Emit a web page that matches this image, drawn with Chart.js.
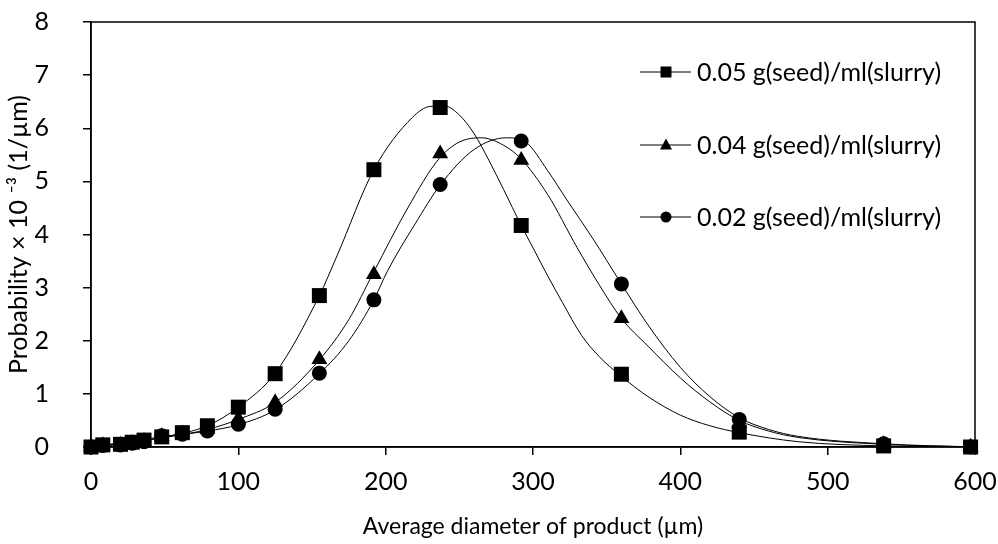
<!DOCTYPE html>
<html>
<head>
<meta charset="utf-8">
<script src="https://cdn.jsdelivr.net/npm/chart.js@4/dist/chart.umd.min.js"></script>
<style>
  body { margin: 0; background: #fff; }
  #wrap { width: 998px; height: 544px; }
</style>
</head>
<body>
<div id="wrap"><canvas id="psdChart" width="998" height="544"></canvas></div>
<script>
// measured points (sizes in um, probability x 10^-3)
const sizes = [0, 8, 20, 28, 36, 48, 62, 79, 100, 125, 155, 192, 237, 292, 360, 440, 538, 597];
const seed05 = [0, 0.04, 0.05, 0.09, 0.13, 0.19, 0.27, 0.40, 0.75, 1.38, 2.85, 5.22, 6.39, 4.17, 1.37, 0.28, 0.02, 0];
const seed04 = [0, 0.03, 0.04, 0.07, 0.11, 0.20, 0.25, 0.34, 0.53, 0.84, 1.65, 3.25, 5.52, 5.40, 2.42, 0.45, 0.05, 0];
const seed02 = [0, 0.03, 0.04, 0.07, 0.10, 0.21, 0.24, 0.30, 0.43, 0.71, 1.39, 2.77, 4.94, 5.76, 3.07, 0.52, 0.06, 0];

// fitted curves
const fitX05 = [0, 20, 50, 79, 100, 125, 155, 167, 192, 218, 230, 240, 250, 260, 270, 280, 292, 300, 310, 320, 333, 345, 360, 378, 400, 420, 440, 480, 538, 600];
const fitY05 = [0, 0.05, 0.19, 0.40, 0.75, 1.39, 2.85, 3.6, 5.22, 6.2, 6.41, 6.42, 6.25, 5.9, 5.4, 4.85, 4.17, 3.75, 3.22, 2.72, 2.1, 1.7, 1.33, 0.95, 0.6, 0.4, 0.27, 0.1, 0.02, 0];
const fitX04 = [0, 50, 79, 100, 125, 155, 175, 192, 215, 236, 250, 265, 280, 292, 310, 330, 345, 360, 378, 400, 420, 440, 460, 480, 538, 600];
const fitY04 = [0, 0.18, 0.33, 0.52, 0.84, 1.64, 2.4, 3.3, 4.5, 5.42, 5.74, 5.82, 5.68, 5.42, 4.75, 3.75, 3.05, 2.42, 1.9, 1.3, 0.85, 0.5, 0.3, 0.18, 0.05, 0];
const fitX02 = [0, 50, 79, 100, 125, 155, 175, 192, 201, 220, 237, 260, 282, 295, 310, 323, 340, 360, 378, 400, 420, 440, 460, 480, 538, 600];
const fitY02 = [0, 0.2, 0.3, 0.42, 0.7, 1.38, 2.0, 2.77, 3.3, 4.2, 4.93, 5.6, 5.82, 5.74, 5.2, 4.65, 3.95, 3.07, 2.3, 1.5, 0.95, 0.55, 0.33, 0.2, 0.06, 0];

const seriesLabels = ['0.05 g(seed)/ml(slurry)', '0.04 g(seed)/ml(slurry)', '0.02 g(seed)/ml(slurry)'];
const xTicks = [0, 100, 200, 300, 400, 500, 600];
const yTicks = [0, 1, 2, 3, 4, 5, 6, 7, 8];

const FONT = 'Lato, "Open Sans", sans-serif';

function pts(xs, ys) {
  return xs.map((x, i) => ({ x: x, y: ys[i] }));
}

function markerSet(label, ys, style, radius) {
  return {
    label: label,
    data: pts(sizes, ys),
    showLine: false,
    pointStyle: style,
    pointRadius: radius,
    pointHoverRadius: radius,
    backgroundColor: '#000',
    borderColor: '#000',
    borderWidth: 0,
    clip: false,
    isMarker: true
  };
}

function curveSet(xs, ys) {
  return {
    data: pts(xs, ys),
    showLine: true,
    borderColor: '#000',
    borderWidth: 1,
    pointRadius: 0,
    cubicInterpolationMode: 'monotone',
    fill: false
  };
}

// black box round the plot area
const frame = {
  id: 'frame',
  afterDraw(chart) {
    const a = chart.chartArea;
    const ctx = chart.ctx;
    ctx.save();
    ctx.strokeStyle = '#000';
    ctx.lineWidth = 1.5;
    ctx.strokeRect(a.left, a.top, a.right - a.left, a.bottom - a.top);
    ctx.restore();
  }
};

// legend inside the plot: line with marker, then text
const insideLegend = {
  id: 'insideLegend',
  afterDraw(chart) {
    const ctx = chart.ctx;
    const a = chart.chartArea;
    const rows = [72, 145, 217];
    const x0 = a.right - 335, x1 = a.right - 284, xm = a.right - 309, xt = a.right - 278;
    const markers = chart.data.datasets.filter(d => d.isMarker);
    ctx.save();
    markers.forEach((d, i) => {
      const y = rows[i];
      ctx.strokeStyle = '#000';
      ctx.lineWidth = 1;
      ctx.beginPath();
      ctx.moveTo(x0, y);
      ctx.lineTo(x1, y);
      ctx.stroke();
      ctx.fillStyle = '#000';
      ctx.beginPath();
      if (d.pointStyle === 'rect') {
        ctx.rect(xm - 5.5, y - 5.5, 11, 11);
      } else if (d.pointStyle === 'triangle') {
        ctx.moveTo(xm, y - 6.5);
        ctx.lineTo(xm + 6, y + 4.5);
        ctx.lineTo(xm - 6, y + 4.5);
        ctx.closePath();
      } else {
        ctx.arc(xm, y, 5.5, 0, Math.PI * 2);
      }
      ctx.fill();
      ctx.font = '25px ' + FONT;
      ctx.textBaseline = 'middle';
      ctx.textAlign = 'left';
      ctx.fillText(d.label, xt, y + 1);
    });
    ctx.restore();
  }
};

const ctx = document.getElementById('psdChart').getContext('2d');

new Chart(ctx, {
  type: 'scatter',
  data: {
    datasets: [
      curveSet(fitX05, fitY05),
      curveSet(fitX04, fitY04),
      curveSet(fitX02, fitY02),
      markerSet(seriesLabels[0], seed05, 'rect', 10.6),
      markerSet(seriesLabels[1], seed04, 'triangle', 9.2),
      markerSet(seriesLabels[2], seed02, 'circle', 7.5)
    ]
  },
  options: {
    responsive: false,
    animation: false,
    layout: { padding: { left: 0, top: 22, right: 23, bottom: 0 } },
    plugins: {
      legend: { display: false },
      tooltip: { enabled: false }
    },
    scales: {
      x: {
        type: 'linear',
        min: 0,
        max: 600,
        afterBuildTicks: s => { s.ticks = xTicks.map(v => ({ value: v })); },
        afterFit: s => { s.height = 97; s.paddingLeft = 0; s.paddingRight = 0; },
        ticks: { color: '#000', font: { family: FONT, size: 25 }, padding: 12 },
        grid: { drawOnChartArea: false, tickLength: 8, color: '#000', lineWidth: 1.5 },
        border: { color: '#000', width: 1.5 },
        title: {
          display: true,
          text: 'Average diameter of product (µm)',
          color: '#000',
          font: { family: FONT, size: 23 },
          padding: { top: 6 }
        }
      },
      y: {
        min: 0,
        max: 8,
        afterBuildTicks: s => { s.ticks = yTicks.map(v => ({ value: v })); },
        afterFit: s => { s.width = 91; s.paddingTop = 0; s.paddingBottom = 0; },
        ticks: { color: '#000', font: { family: FONT, size: 25 }, padding: 34 },
        grid: { drawOnChartArea: false, tickLength: 8, color: '#000', lineWidth: 1.5 },
        border: { color: '#000', width: 1.5 },
        title: {
          display: true,
          text: 'Probability × 10 ⁻³ (1/µm)',
          color: '#000',
          font: { family: FONT, size: 25 },
          padding: { bottom: 0 }
        }
      }
    }
  },
  plugins: [frame, insideLegend]
});
</script>
</body>
</html>
